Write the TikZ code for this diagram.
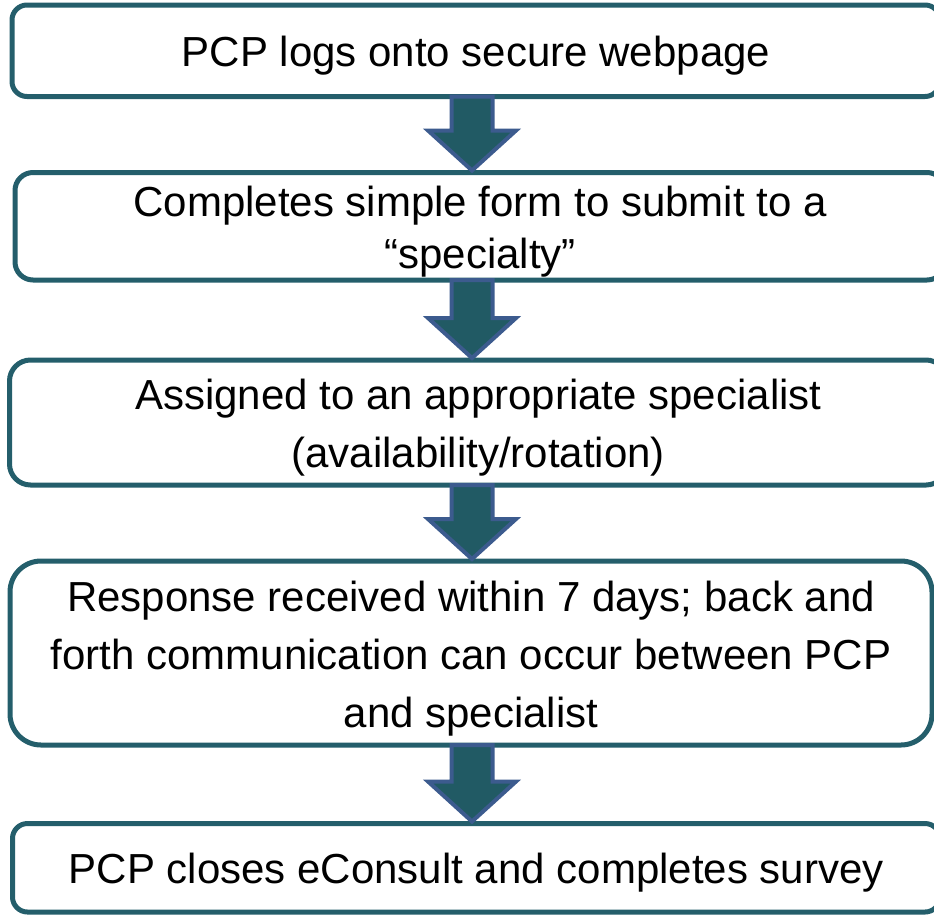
\documentclass[tikz,border=0pt]{standalone}
\usepackage{fontspec}
\setmainfont{Liberation Sans}
\definecolor{boxcol}{HTML}{245E6B}
\definecolor{arrowfill}{HTML}{215A64}
\definecolor{arrowedge}{HTML}{3C5B8E}
\tikzset{
  box/.style={draw=boxcol, line width=5pt, fill=white, align=center,
    font=\fontsize{42}{58}\selectfont, inner sep=0pt, outer sep=0pt,
    text height=40pt, text depth=8pt},
  twolines/.style={text height=98pt},
  threelines/.style={text height=156pt},
  barrow/.style={draw=arrowedge, fill=arrowfill, line width=4pt, line join=miter},
}
\newcommand\blockarrow[2]{%
  \coordinate (#1top) at (#1.south -| ax);
  \coordinate (#2tip) at (#2.north -| ax);
  \draw[barrow] ([xshift=-20.5pt]#1top) -- ([xshift=20.5pt]#1top)
    -- ([xshift=20.5pt,yshift=42pt]#2tip) -- ([xshift=44pt,yshift=42pt]#2tip)
    -- ([yshift=2pt]#2tip) -- ([xshift=-44pt,yshift=42pt]#2tip)
    -- ([xshift=-20.5pt,yshift=42pt]#2tip) -- cycle;}
\begin{document}
\begin{tikzpicture}[x=1pt,y=-1pt]
\useasboundingbox (0,0) rectangle (934,914);
\clip (0,0) rectangle (934,914);
\coordinate (ax) at (472,0);
\node[box, minimum width=928pt, minimum height=91.5pt, rounded corners=15pt] (b1) at (476,50.75)
  {PCP logs onto secure webpage};
\node[box, font=\fontsize{42}{52}\selectfont, text height=92pt, minimum width=930pt, minimum height=107.5pt, rounded corners=18pt] (b2) at (480,226.25)
  {Completes simple form to submit to a\\“specialty”};
\node[box, twolines, minimum width=937.5pt, minimum height=125pt, rounded corners=21pt] (b3) at (478.25,422.5)
  {Assigned to an appropriate specialist\\(availability/rotation)};
\node[box, threelines, minimum width=922pt, minimum height=184pt, rounded corners=31pt] (b4) at (471,653)
  {Response received within 7 days; back and\\forth communication can occur between PCP\\and specialist};
\node[box, minimum width=927.5pt, minimum height=88.5pt, rounded corners=15pt] (b5) at (476.25,867.75)
  {PCP closes eConsult and completes survey};
\blockarrow{b1}{b2}
\blockarrow{b2}{b3}
\blockarrow{b3}{b4}
\blockarrow{b4}{b5}
\end{tikzpicture}
\end{document}
